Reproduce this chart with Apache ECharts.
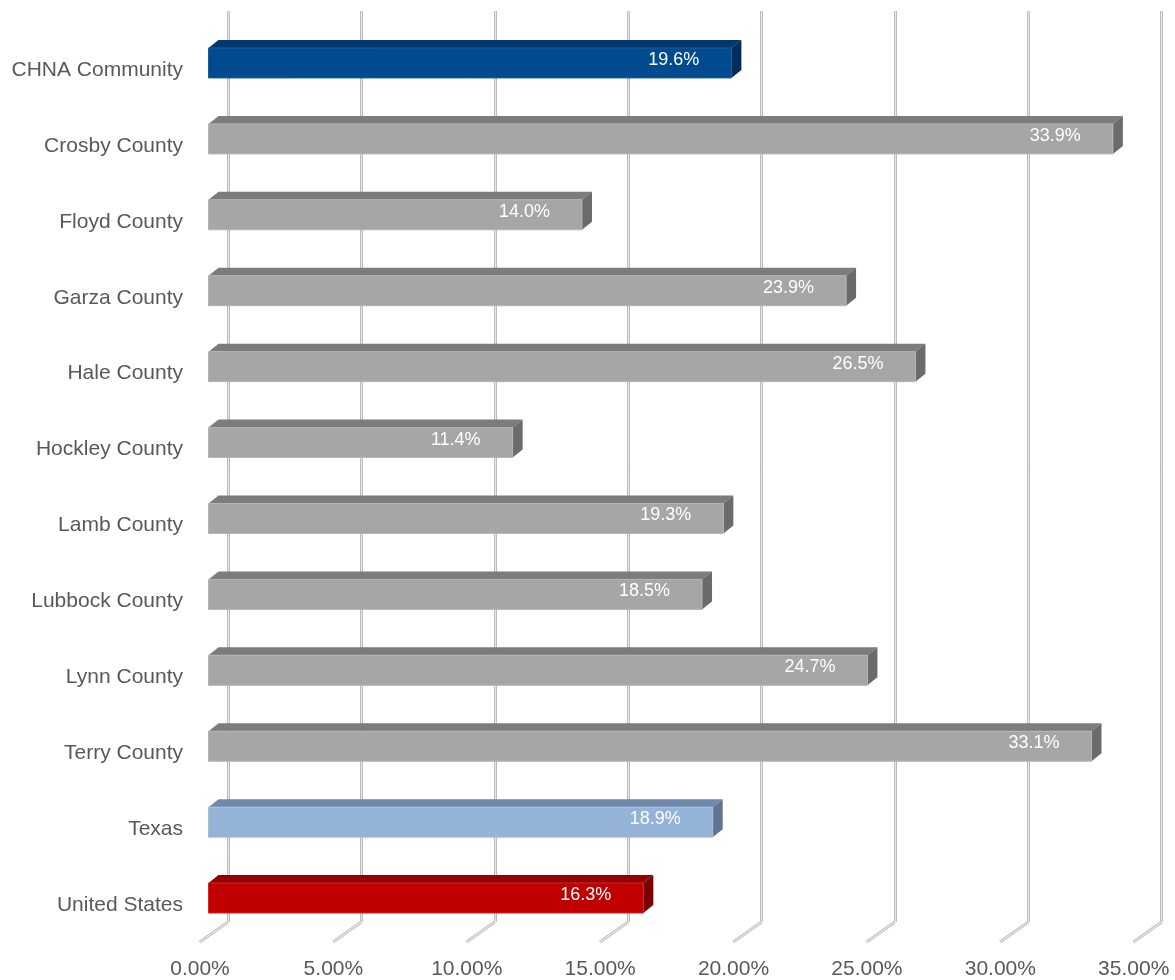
<!DOCTYPE html>
<html>
<head>
<meta charset="utf-8">
<script src="https://cdn.jsdelivr.net/npm/echarts@6/dist/echarts.min.js"></script>
<style>
html,body{margin:0;padding:0;background:#fff;}
#chart{width:1175px;height:980px;}
</style>
</head>
<body>
<div id="chart"></div>
<script>
const categories = ['CHNA Community','Crosby County','Floyd County','Garza County','Hale County','Hockley County','Lamb County','Lubbock County','Lynn County','Terry County','Texas','United States'];
const values = [19.6, 33.9, 14.0, 23.9, 26.5, 11.4, 19.3, 18.5, 24.7, 33.1, 18.9, 16.3];
const tickValues = [0, 5, 10, 15, 20, 25, 30, 35];
const barKinds = ['chna','county','county','county','county','county','county','county','county','county','texas','us'];

const palette = {
  chna:   {front:'#004a8f', top:'#00376e', side:'#002c5a', edge:'#1b5c9c'},
  county: {front:'#a6a6a6', top:'#7c7c7c', side:'#6b6b6b', edge:'#b4b4b4'},
  texas:  {front:'#95b3d7', top:'#7089aa', side:'#5f7593', edge:'#a3bedd'},
  us:     {front:'#c00000', top:'#950000', side:'#7c0000', edge:'#cc2a2a'}
};

const FONT = '"Liberation Sans", Arial, sans-serif';
const chart = echarts.init(document.getElementById('chart'), null, {renderer:'canvas'});

function renderBar(params, api) {
  const v = api.value(0), idx = api.value(1);
  const p0 = api.coord([0, idx]);
  const p1 = api.coord([v, idx]);
  const fx = -19.5, fy = 14, h = 30, dx = 10, dy = -8;
  const x0 = p0[0] + fx, x1 = p1[0] + fx;
  const yc = p1[1] + fy, yt = yc - h / 2, yb = yc + h / 2;
  const c = palette[barKinds[idx]];
  return {
    type: 'group',
    children: [
      {type:'polygon', shape:{points:[[x0,yt],[x0+dx,yt+dy],[x1+dx,yt+dy],[x1,yt]]}, style:{fill:c.top}},
      {type:'polygon', shape:{points:[[x1,yt],[x1+dx,yt+dy],[x1+dx,yb+dy],[x1,yb]]}, style:{fill:c.side}},
      {type:'rect', shape:{x:x0, y:yt, width:x1-x0, height:h}, style:{fill:c.front, stroke:c.edge, lineWidth:1}},
      {type:'text', style:{text:v.toFixed(1)+'%', x:x1-32, y:yc-3, align:'right', verticalAlign:'middle', fill:'#ffffff', font:'18px ' + FONT}}
    ]
  };
}

function renderFloor(params, api) {
  const v = api.value(0);
  const x = api.coord([v, 0])[0];
  const yb = params.coordSys.y + params.coordSys.height;
  return {
    type:'group',
    children:[
      {type:'line', shape:{x1:x, y1:yb, x2:x-28.3, y2:yb+20}, style:{stroke:'#c4c4c4', lineWidth:3}},
      {type:'line', shape:{x1:x, y1:yb, x2:x-28.3, y2:yb+20}, style:{stroke:'#efefef', lineWidth:1}}
    ]
  };
}

const option = {
  backgroundColor:'#ffffff',
  animation:false,
  grid:{left:228, right:13.3, top:11, bottom:57, containLabel:false},
  xAxis:[
    {
      type:'value', min:0, max:35, interval:5,
      axisLine:{show:false}, axisTick:{show:false},
      splitLine:{show:true, lineStyle:{color:'#bcbcbc', width:3}},
      axisLabel:{
        margin:37, fontSize:21, color:'#595959', fontFamily:FONT,
        padding:[0,56,0,0],
        formatter:function(v){return v.toFixed(2)+'%';}
      }
    },
    {
      type:'value', min:0, max:35, interval:5, position:'bottom',
      axisLine:{show:false}, axisTick:{show:false}, axisLabel:{show:false},
      splitLine:{show:true, lineStyle:{color:'#e8e8e8', width:1}}
    }
  ],
  yAxis:{
    type:'category', data:categories, inverse:true,
    axisLine:{show:false}, axisTick:{show:false}, splitLine:{show:false},
    axisLabel:{
      interval:0, hideOverlap:false,
      margin:45, fontSize:21, color:'#595959', fontFamily:FONT, lineHeight:42,
      formatter:function(v){return '\n' + v;}
    }
  },
  series:[
    {
      type:'custom', name:'floor', xAxisIndex:0, clip:false,
      renderItem:renderFloor,
      data:tickValues.map(v=>[v,0]),
      encode:{x:0, y:1}, silent:true, z:1
    },
    {
      type:'custom', name:'bars', xAxisIndex:0, clip:false,
      renderItem:renderBar,
      data:values.map((v,i)=>[v,i]),
      encode:{x:0, y:1}, z:5
    }
  ]
};
chart.setOption(option);
</script>
</body>
</html>
